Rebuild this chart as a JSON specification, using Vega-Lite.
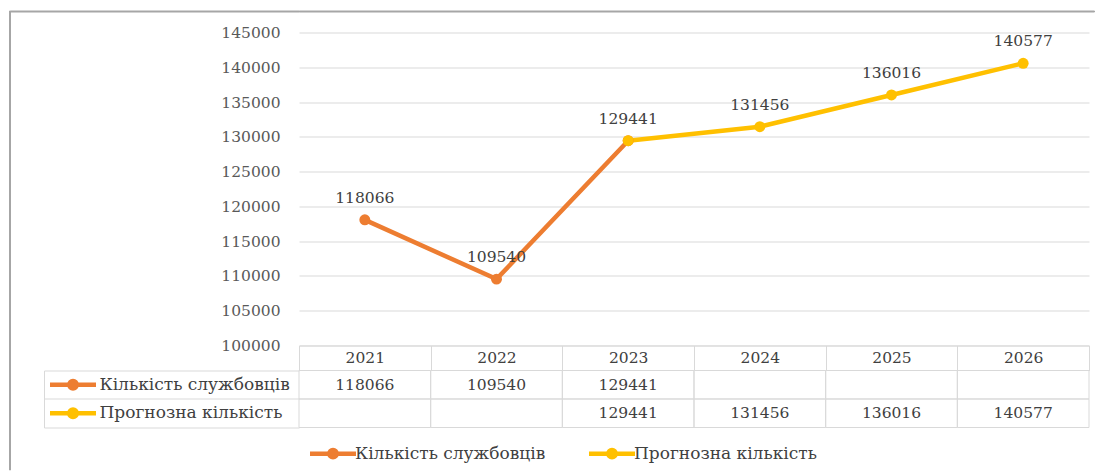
{
  "$schema": "https://vega.github.io/schema/vega-lite/v6.json",
  "padding": {"left": 8, "top": 9.5, "right": 0, "bottom": 0},
  "config": {"view": {"stroke": null}, "font": "DejaVu Serif"},
  "datasets": {
    "d": [
      {"year": 2021, "series": "Кількість службовців", "value": 118066},
      {"year": 2022, "series": "Кількість службовців", "value": 109540},
      {"year": 2023, "series": "Кількість службовців", "value": 129441},
      {"year": 2024, "series": "Кількість службовців", "value": null},
      {"year": 2025, "series": "Кількість службовців", "value": null},
      {"year": 2026, "series": "Кількість службовців", "value": null},
      {"year": 2021, "series": "Прогнозна кількість", "value": null},
      {"year": 2022, "series": "Прогнозна кількість", "value": null},
      {"year": 2023, "series": "Прогнозна кількість", "value": 129441},
      {"year": 2024, "series": "Прогнозна кількість", "value": 131456},
      {"year": 2025, "series": "Прогнозна кількість", "value": 136016},
      {"year": 2026, "series": "Прогнозна кількість", "value": 140577}
    ]
  },
  "spacing": 0,
  "bounds": "flush",
  "hconcat": [
    {
      "width": 1, "height": 459,
      "data": {"values": []},
      "mark": "rect", "encoding": {},
      "view": {"stroke": "#a6a6a6", "fill": "#a6a6a6", "strokeWidth": 1}
    },
    {
      "width": 289, "height": 1,
      "data": {"values": []},
      "mark": "rect", "encoding": {},
      "view": {"stroke": "#a6a6a6", "fill": "#a6a6a6", "strokeWidth": 1}
    },
    {
      "spacing": 13,
      "vconcat": [
        {
          "width": 795, "height": 1,
          "data": {"values": []},
          "mark": "rect", "encoding": {},
          "view": {"stroke": "#a6a6a6", "fill": "#a6a6a6", "strokeWidth": 1}
        },
        {
          "spacing": 25,
          "bounds": "flush",
          "resolve": {"scale": {"color": "independent", "x": "independent"}, "legend": {"color": "independent"}},
          "vconcat": [
            {
              "width": 790, "height": 313,
              "data": {"name": "d"},
              "transform": [{"filter": "isValid(datum.value)"}],
              "encoding": {
                "x": {
                  "field": "year", "type": "ordinal",
                  "scale": {"type": "band", "domain": [2021, 2022, 2023, 2024, 2025, 2026], "paddingInner": 0, "paddingOuter": 0},
                  "axis": {"title": null, "tickBand": "extent", "tickSize": 25, "tickColor": "#d9d9d9", "domainColor": "#d9d9d9", "labelAngle": 0, "labelBaseline": "middle", "labelPadding": -13, "labelFontSize": 15.5, "labelColor": "#404040", "labelFont": "DejaVu Serif", "grid": false}
                },
                "y": {
                  "field": "value", "type": "quantitative",
                  "scale": {"domain": [100000, 145000], "nice": false, "zero": false},
                  "axis": {"title": null, "values": [100000, 105000, 110000, 115000, 120000, 125000, 130000, 135000, 140000, 145000], "format": "d", "domain": false, "ticks": false, "tickSize": 0, "labelPadding": 19, "gridColor": "#d9d9d9", "labelFontSize": 15.5, "labelColor": "#595959", "labelFont": "DejaVu Serif"}
                },
                "color": {
                  "field": "series", "type": "nominal",
                  "scale": {"domain": ["Кількість службовців", "Прогнозна кількість"], "range": ["#ED7D31", "#FFC000"]},
                  "legend": null
                }
              },
              "layer": [
                {"mark": {"type": "line", "strokeWidth": 4.5}},
                {"mark": {"type": "point", "filled": true, "size": 120, "opacity": 1}},
                {
                  "transform": [{"filter": "datum.series == 'Кількість службовців' || datum.year != 2023"}],
                  "mark": {"type": "text", "dy": -22, "fontSize": 15.5, "font": "DejaVu Serif"},
                  "encoding": {"text": {"field": "value", "type": "quantitative", "format": "d"}, "color": {"value": "#404040"}}
                }
              ]
            },
            {
              "width": 790, "height": 57,
              "data": {"name": "d"},
              "encoding": {
                "y": {
                  "field": "series", "type": "nominal",
                  "scale": {"domain": ["Кількість службовців", "Прогнозна кількість"], "paddingInner": 0, "paddingOuter": 0},
                  "axis": {"title": null, "orient": "left", "offset": 255, "domainColor": "#d9d9d9", "tickColor": "#d9d9d9", "tickSize": -255, "bandPosition": 1, "tickExtra": true, "labelAlign": "left", "labelBaseline": "middle", "labelPadding": 200, "labelFont": "DejaVu Serif", "labelFontSize": 17, "labelColor": "#404040", "labelLimit": 400, "grid": false}
                }
              },
              "layer": [
                {
                  "mark": {"type": "rect", "fill": "transparent", "stroke": "#d9d9d9", "strokeWidth": 1},
                  "encoding": {"x": {"field": "year", "type": "ordinal", "scale": {"type": "band", "domain": [2021, 2022, 2023, 2024, 2025, 2026], "paddingInner": 0, "paddingOuter": 0}, "axis": null}}
                },
                {
                  "transform": [{"filter": "isValid(datum.value)"}],
                  "mark": {"type": "text", "fontSize": 15.5, "font": "DejaVu Serif", "color": "#404040"},
                  "encoding": {
                    "x": {"field": "year", "type": "ordinal", "scale": {"type": "band", "domain": [2021, 2022, 2023, 2024, 2025, 2026], "paddingInner": 0, "paddingOuter": 0}, "axis": null},
                    "text": {"field": "value", "type": "quantitative", "format": "d"}
                  }
                },
                {
                  "transform": [{"filter": "datum.year == 2021"}],
                  "mark": {"type": "point", "shape": "M-2,0L2,0M0.13,0A0.13,0.13,0,1,1,-0.13,0A0.13,0.13,0,1,1,0.13,0M0.326,0A0.326,0.326,0,1,1,-0.326,0A0.326,0.326,0,1,1,0.326,0", "size": 529, "filled": false, "strokeWidth": 4.5, "opacity": 1, "xOffset": -621},
                  "encoding": {
                    "color": {
                      "field": "series", "type": "nominal",
                      "scale": {"domain": ["Кількість службовців", "Прогнозна кількість"], "range": ["#ED7D31", "#FFC000"]},
                      "legend": {"orient": "bottom", "offset": -8.5, "padding": 20, "direction": "horizontal", "title": null, "symbolType": "M-2,0L2,0M0.13,0A0.13,0.13,0,1,1,-0.13,0A0.13,0.13,0,1,1,0.13,0M0.326,0A0.326,0.326,0,1,1,-0.326,0A0.326,0.326,0,1,1,0.326,0", "symbolSize": 529, "symbolStrokeWidth": 4.5, "labelOffset": 8, "columnPadding": 34, "labelFont": "DejaVu Serif", "labelFontSize": 17, "labelColor": "#404040", "labelLimit": 400}
                    }
                  }
                }
              ]
            }
          ]
        }
      ]
    }
  ]
}
